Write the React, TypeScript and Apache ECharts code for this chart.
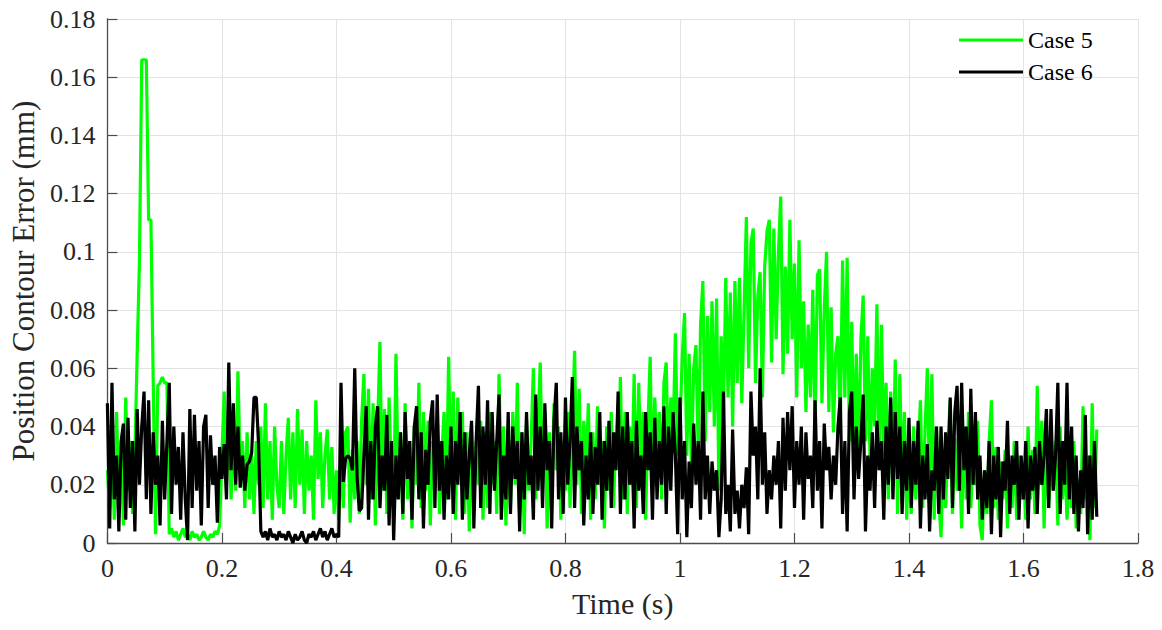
import React, { useEffect, useRef } from "react";
import * as echarts from "echarts";

// Sample interval of the recorded signals (s)
const SAMPLE_DT = 0.004;

const xTicks = ["0", "0.2", "0.4", "0.6", "0.8", "1", "1.2", "1.4", "1.6", "1.8"];
const yTicks = ["0", "0.02", "0.04", "0.06", "0.08", "0.1", "0.12", "0.14", "0.16", "0.18"];
const seriesNames = ["Case 5", "Case 6"];

// Case 5 position contour error (mm), one row per 0.1 s
const case5 = [
  0.025, 0.012, 0.038, 0.008, 0.045, 0.015, 0.030, 0.006, 0.050, 0.018, 0.035, 0.010, 0.030, 0.065, 0.097, 0.166, 0.166, 0.166, 0.111, 0.111, 0.056, 0.003, 0.054, 0.055, 0.057,
  0.055, 0.055, 0.003, 0.005, 0.002, 0.004, 0.001, 0.003, 0.005, 0.002, 0.003, 0.001, 0.004, 0.002, 0.003, 0.001, 0.002, 0.004, 0.002, 0.001, 0.003, 0.002, 0.004, 0.003, 0.006,
  0.030, 0.052, 0.020, 0.045, 0.015, 0.040, 0.018, 0.059, 0.025, 0.035, 0.012, 0.038, 0.015, 0.030, 0.010, 0.035, 0.020, 0.040, 0.012, 0.048, 0.015, 0.035, 0.008, 0.040, 0.020,
  0.012, 0.035, 0.010, 0.030, 0.043, 0.015, 0.038, 0.012, 0.046, 0.020, 0.039, 0.010, 0.035, 0.018, 0.030, 0.008, 0.049, 0.022, 0.038, 0.012, 0.030, 0.039, 0.015, 0.033, 0.010,
  0.025, 0.008, 0.030, 0.012, 0.038, 0.040, 0.007, 0.032, 0.015, 0.035, 0.010, 0.042, 0.058, 0.020, 0.053, 0.015, 0.048, 0.006, 0.040, 0.069, 0.018, 0.046, 0.010, 0.050, 0.022,
  0.012, 0.065, 0.020, 0.038, 0.008, 0.048, 0.015, 0.035, 0.005, 0.040, 0.020, 0.055, 0.012, 0.045, 0.018, 0.042, 0.006, 0.035, 0.020, 0.040, 0.010, 0.030, 0.045, 0.015, 0.064,
  0.020, 0.052, 0.008, 0.050, 0.025, 0.045, 0.010, 0.038, 0.004, 0.040, 0.015, 0.035, 0.020, 0.042, 0.008, 0.038, 0.012, 0.045, 0.020, 0.035, 0.010, 0.058, 0.018, 0.040, 0.006,
  0.035, 0.012, 0.045, 0.020, 0.055, 0.010, 0.038, 0.003, 0.042, 0.018, 0.035, 0.060, 0.015, 0.040, 0.062, 0.020, 0.045, 0.005, 0.038, 0.015, 0.048, 0.025, 0.040, 0.008, 0.035,
  0.018, 0.045, 0.012, 0.040, 0.066, 0.020, 0.053, 0.010, 0.042, 0.025, 0.048, 0.008, 0.038, 0.015, 0.047, 0.020, 0.035, 0.005, 0.040, 0.018, 0.045, 0.012, 0.038, 0.025, 0.057,
  0.015, 0.045, 0.010, 0.040, 0.020, 0.058, 0.012, 0.055, 0.025, 0.045, 0.008, 0.040, 0.064, 0.018, 0.050, 0.030, 0.045, 0.015, 0.055, 0.062, 0.025, 0.050, 0.035, 0.072, 0.030,
  0.040, 0.064, 0.079, 0.030, 0.065, 0.025, 0.060, 0.068, 0.030, 0.075, 0.090, 0.035, 0.078, 0.045, 0.083, 0.040, 0.084, 0.018, 0.071, 0.045, 0.091, 0.050, 0.086, 0.040, 0.090,
  0.055, 0.091, 0.048, 0.080, 0.112, 0.060, 0.103, 0.108, 0.055, 0.085, 0.093, 0.050, 0.095, 0.107, 0.111, 0.062, 0.108, 0.070, 0.100, 0.119, 0.058, 0.095, 0.065, 0.111, 0.070,
  0.096, 0.050, 0.104, 0.060, 0.083, 0.045, 0.075, 0.050, 0.087, 0.040, 0.092, 0.094, 0.048, 0.080, 0.100, 0.045, 0.081, 0.038, 0.065, 0.071, 0.040, 0.097, 0.050, 0.098, 0.035,
  0.076, 0.030, 0.065, 0.025, 0.070, 0.085, 0.035, 0.071, 0.028, 0.060, 0.040, 0.082, 0.025, 0.075, 0.030, 0.055, 0.015, 0.052, 0.020, 0.063, 0.010, 0.058, 0.018, 0.045, 0.008,
  0.035, 0.010, 0.040, 0.015, 0.030, 0.049, 0.012, 0.038, 0.060, 0.020, 0.058, 0.008, 0.040, 0.015, 0.002, 0.030, 0.012, 0.035, 0.049, 0.010, 0.036, 0.018, 0.030, 0.005, 0.040,
  0.015, 0.045, 0.012, 0.030, 0.020, 0.042, 0.006, 0.001, 0.025, 0.010, 0.035, 0.049, 0.012, 0.033, 0.008, 0.028, 0.015, 0.032, 0.005, 0.025, 0.012, 0.035, 0.008, 0.030, 0.015,
  0.025, 0.008, 0.040, 0.015, 0.032, 0.010, 0.054, 0.020, 0.042, 0.005, 0.038, 0.012, 0.030, 0.018, 0.035, 0.006, 0.040, 0.015, 0.030, 0.008, 0.025, 0.012, 0.035, 0.005, 0.022,
  0.010, 0.047, 0.015, 0.030, 0.001, 0.048, 0.012, 0.039,
];

// Case 6 position contour error (mm), one row per 0.1 s
const case6 = [
  0.048, 0.005, 0.055, 0.015, 0.030, 0.004, 0.035, 0.041, 0.008, 0.043, 0.012, 0.035, 0.004, 0.046, 0.020, 0.040, 0.052, 0.015, 0.049, 0.010, 0.038, 0.020, 0.030, 0.006, 0.042,
  0.015, 0.035, 0.055, 0.010, 0.040, 0.020, 0.033, 0.008, 0.038, 0.015, 0.001, 0.046, 0.012, 0.044, 0.018, 0.035, 0.006, 0.040, 0.044, 0.012, 0.037, 0.020, 0.030, 0.007, 0.033,
  0.022, 0.034, 0.015, 0.062, 0.025, 0.048, 0.020, 0.040, 0.019, 0.030, 0.018, 0.027, 0.028, 0.031, 0.050, 0.050, 0.034, 0.004, 0.002, 0.004, 0.001, 0.005, 0.002, 0.003, 0.001,
  0.004, 0.002, 0.003, 0.001, 0.004, 0.002, 0.000, 0.003, 0.001, 0.002, 0.004, 0.001, 0.000, 0.003, 0.002, 0.004, 0.001, 0.003, 0.005, 0.002, 0.004, 0.001, 0.003, 0.005, 0.002,
  0.003, 0.002, 0.055, 0.021, 0.029, 0.030, 0.029, 0.025, 0.060, 0.023, 0.011, 0.012, 0.030, 0.047, 0.008, 0.035, 0.015, 0.040, 0.047, 0.012, 0.030, 0.018, 0.044, 0.006, 0.035,
  0.001, 0.030, 0.015, 0.038, 0.010, 0.045, 0.022, 0.035, 0.008, 0.040, 0.047, 0.015, 0.038, 0.005, 0.032, 0.020, 0.042, 0.049, 0.012, 0.051, 0.018, 0.035, 0.008, 0.030, 0.015,
  0.040, 0.010, 0.035, 0.020, 0.045, 0.008, 0.038, 0.015, 0.030, 0.042, 0.005, 0.035, 0.054, 0.012, 0.040, 0.020, 0.049, 0.010, 0.045, 0.018, 0.035, 0.051, 0.008, 0.030, 0.015,
  0.045, 0.010, 0.040, 0.022, 0.035, 0.004, 0.038, 0.015, 0.045, 0.020, 0.030, 0.008, 0.051, 0.018, 0.040, 0.012, 0.048, 0.025, 0.035, 0.005, 0.042, 0.055, 0.015, 0.038, 0.010,
  0.050, 0.020, 0.035, 0.057, 0.012, 0.040, 0.025, 0.035, 0.006, 0.030, 0.015, 0.038, 0.010, 0.033, 0.020, 0.045, 0.008, 0.035, 0.018, 0.042, 0.012, 0.038, 0.025, 0.052, 0.010,
  0.040, 0.015, 0.045, 0.020, 0.035, 0.005, 0.042, 0.018, 0.030, 0.010, 0.045, 0.025, 0.038, 0.008, 0.043, 0.015, 0.035, 0.020, 0.047, 0.010, 0.040, 0.018, 0.045, 0.030, 0.003,
  0.050, 0.015, 0.035, 0.002, 0.028, 0.012, 0.041, 0.020, 0.035, 0.008, 0.052, 0.015, 0.030, 0.010, 0.028, 0.018, 0.025, 0.002, 0.015, 0.052, 0.010, 0.020, 0.004, 0.039, 0.010,
  0.018, 0.005, 0.020, 0.012, 0.026, 0.003, 0.052, 0.030, 0.040, 0.015, 0.060, 0.020, 0.038, 0.010, 0.025, 0.015, 0.030, 0.020, 0.035, 0.005, 0.043, 0.018, 0.045, 0.025, 0.047,
  0.012, 0.035, 0.020, 0.040, 0.008, 0.038, 0.022, 0.030, 0.012, 0.049, 0.018, 0.035, 0.005, 0.041, 0.025, 0.033, 0.015, 0.030, 0.020, 0.040, 0.050, 0.010, 0.035, 0.004, 0.045,
  0.052, 0.015, 0.040, 0.022, 0.035, 0.051, 0.004, 0.030, 0.018, 0.038, 0.012, 0.042, 0.025, 0.035, 0.008, 0.040, 0.020, 0.050, 0.015, 0.045, 0.022, 0.040, 0.010, 0.035, 0.018,
  0.043, 0.012, 0.035, 0.020, 0.042, 0.005, 0.030, 0.015, 0.034, 0.004, 0.025, 0.018, 0.040, 0.010, 0.040, 0.015, 0.038, 0.022, 0.050, 0.012, 0.045, 0.054, 0.018, 0.055, 0.025,
  0.040, 0.010, 0.053, 0.020, 0.045, 0.015, 0.030, 0.008, 0.025, 0.012, 0.035, 0.003, 0.030, 0.015, 0.033, 0.002, 0.028, 0.018, 0.042, 0.010, 0.030, 0.020, 0.035, 0.008, 0.030,
  0.015, 0.035, 0.005, 0.030, 0.018, 0.033, 0.010, 0.035, 0.020, 0.030, 0.046, 0.012, 0.046, 0.018, 0.030, 0.055, 0.010, 0.035, 0.020, 0.055, 0.015, 0.040, 0.010, 0.030, 0.004,
  0.025, 0.012, 0.044, 0.003, 0.030, 0.008, 0.035, 0.009,
];

const FONT = "Liberation Serif, Times New Roman, serif";

function toPairs(values: number[]) {
  return values.map((v, i) => [Math.round(i * SAMPLE_DT * 1000) / 1000, v]);
}

function fmt(v: number) {
  return String(parseFloat(Number(v).toFixed(2)));
}

export default function App() {
  const ref = useRef<HTMLDivElement>(null);

  useEffect(() => {
    if (!ref.current) return;
    const chart = echarts.init(ref.current, undefined, { renderer: "svg" });
    const axisText = { color: "#262626", fontFamily: FONT, fontSize: 26 };
    chart.setOption({
      animation: false,
      backgroundColor: "#ffffff",
      textStyle: { fontFamily: FONT },
      grid: { left: 104, right: 24, top: 19, bottom: 87, containLabel: false },
      legend: {
        orient: "vertical",
        left: 954,
        top: 23,
        itemWidth: 64,
        itemHeight: 3,
        itemGap: 8,
        icon: "rect",
        textStyle: { color: "#000", fontFamily: FONT, fontSize: 24 },
        data: seriesNames,
      },
      xAxis: {
        type: "value",
        min: 0,
        max: 1.8,
        interval: 0.2,
        name: "Time (s)",
        nameLocation: "middle",
        nameGap: 45,
        nameTextStyle: { color: "#262626", fontFamily: FONT, fontSize: 30 },
        axisLine: { show: true, lineStyle: { color: "#4d4d4d", width: 1.3 } },
        axisTick: { show: true, inside: true, length: 10, lineStyle: { color: "#4d4d4d", width: 1.2 } },
        axisLabel: { ...axisText, margin: 12, formatter: (v: number) => fmt(v) },
        splitLine: { show: true, lineStyle: { color: "#e3e3e3", width: 1 } },
      },
      yAxis: {
        type: "value",
        min: 0,
        max: 0.18,
        interval: 0.02,
        name: "Position Contour Error (mm)",
        nameLocation: "middle",
        nameGap: 66,
        nameTextStyle: { color: "#262626", fontFamily: FONT, fontSize: 31 },
        axisLine: { show: true, lineStyle: { color: "#4d4d4d", width: 1.3 } },
        axisTick: { show: true, inside: true, length: 10, lineStyle: { color: "#4d4d4d", width: 1.2 } },
        axisLabel: { ...axisText, margin: 12, formatter: (v: number) => fmt(v) },
        splitLine: { show: true, lineStyle: { color: "#e3e3e3", width: 1 } },
      },
      series: [
        {
          name: seriesNames[0],
          type: "line",
          data: toPairs(case5),
          symbol: "none",
          lineStyle: { color: "#00ff00", width: 3.2 },
          itemStyle: { color: "#00ff00" },
          z: 2,
        },
        {
          name: seriesNames[1],
          type: "line",
          data: toPairs(case6),
          symbol: "none",
          lineStyle: { color: "#000000", width: 3.2 },
          itemStyle: { color: "#000000" },
          z: 3,
        },
      ],
    });
    return () => chart.dispose();
  }, []);

  return (
    <div
      ref={ref}
      style={{ width: 1162, height: 630, position: "absolute", left: 0, top: 0, background: "#fff" }}
    />
  );
}
